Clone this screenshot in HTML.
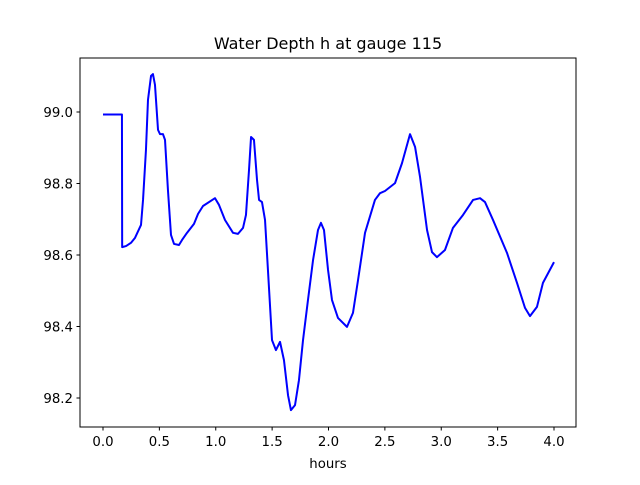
<!DOCTYPE html>
<html><head><meta charset="utf-8"><style>
body{margin:0;background:#fff;}
svg text{font-family:"DejaVu Sans","Liberation Sans",sans-serif;fill:#000;}
</style></head><body>
<svg id="chart" width="640" height="480" viewBox="0 0 640 480" xmlns="http://www.w3.org/2000/svg">
<rect x="0" y="0" width="640" height="480" fill="#fff"/>
<text x="328" y="49" font-size="16" text-anchor="middle">Water Depth h at gauge 115</text>
<g id="xticks"></g>
<g id="yticks"></g>
<path id="series" fill="none" stroke="#0000ff" stroke-width="2" stroke-linejoin="round"/>
<rect x="80" y="58" width="496" height="369" fill="none" stroke="#000" stroke-width="1"/>
<text x="328" y="468" font-size="13.3" text-anchor="middle">hours</text>
</svg>
<script>
const hours=[0.0,0.168,0.170,0.204,0.248,0.284,0.337,0.355,0.381,0.399,0.426,0.443,0.461,0.488,0.506,0.532,0.550,0.576,0.603,0.630,0.674,0.701,0.745,0.807,0.843,0.887,0.993,1.029,1.082,1.153,1.197,1.242,1.268,1.295,1.313,1.339,1.366,1.384,1.410,1.437,1.463,1.499,1.534,1.570,1.605,1.641,1.667,1.703,1.738,1.774,1.818,1.863,1.907,1.933,1.960,1.996,2.031,2.084,2.164,2.217,2.262,2.324,2.412,2.457,2.501,2.590,2.652,2.723,2.768,2.812,2.874,2.918,2.962,3.033,3.104,3.193,3.282,3.344,3.388,3.459,3.583,3.672,3.743,3.787,3.849,3.902,4.000];
const depth=[98.993,98.993,98.622,98.625,98.634,98.648,98.684,98.754,98.894,99.034,99.101,99.106,99.076,98.950,98.938,98.938,98.922,98.782,98.656,98.631,98.628,98.642,98.662,98.687,98.715,98.737,98.759,98.740,98.698,98.662,98.659,98.676,98.712,98.838,98.930,98.922,98.810,98.754,98.748,98.698,98.558,98.362,98.334,98.357,98.306,98.208,98.166,98.180,98.250,98.362,98.474,98.586,98.670,98.690,98.670,98.558,98.474,98.424,98.399,98.438,98.530,98.662,98.754,98.773,98.779,98.801,98.857,98.938,98.902,98.818,98.670,98.608,98.594,98.614,98.676,98.712,98.754,98.759,98.748,98.698,98.606,98.522,98.452,98.429,98.455,98.522,98.580];
const xTickLabels=["0.0","0.5","1.0","1.5","2.0","2.5","3.0","3.5","4.0"];
const yTickLabels=["98.2","98.4","98.6","98.8","99.0"];
const NS="http://www.w3.org/2000/svg";
function xs(v){return 103+v*112.75;}
function ys(v){return 112+(99-v)*357.5;}
let d="";
hours.forEach((h,i)=>{d+=(i?"L":"M")+xs(h).toFixed(2)+","+ys(depth[i]).toFixed(2);});
document.getElementById("series").setAttribute("d",d);
const xg=document.getElementById("xticks");
xTickLabels.forEach(t=>{
  const x=xs(parseFloat(t));
  const l=document.createElementNS(NS,"line");
  l.setAttribute("x1",x);l.setAttribute("x2",x);l.setAttribute("y1",427);l.setAttribute("y2",430.5);l.setAttribute("stroke","#000");
  
  
  xg.appendChild(l);
  const tx=document.createElementNS(NS,"text");
  tx.setAttribute("x",x);tx.setAttribute("y",446);tx.setAttribute("font-size","13.3");tx.setAttribute("text-anchor","middle");
  tx.textContent=t;
  
  
  xg.appendChild(tx);
});
const yg=document.getElementById("yticks");
yTickLabels.forEach(t=>{
  const y=ys(parseFloat(t));
  const l=document.createElementNS(NS,"line");
  l.setAttribute("x1",76.5);l.setAttribute("x2",80);l.setAttribute("y1",y);l.setAttribute("y2",y);l.setAttribute("stroke","#000");
  
  
  yg.appendChild(l);
  const tx=document.createElementNS(NS,"text");
  tx.setAttribute("x",73);tx.setAttribute("y",y+5);tx.setAttribute("font-size","13.3");tx.setAttribute("text-anchor","end");
  tx.textContent=t;
  
  
  yg.appendChild(tx);
});
</script>
</body></html>
